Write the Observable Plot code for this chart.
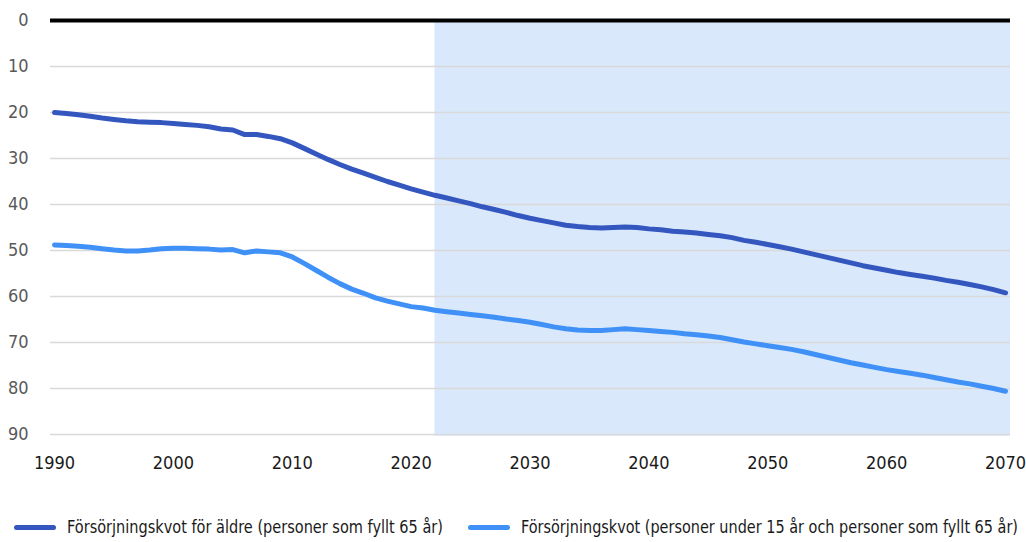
<!DOCTYPE html>
<html>
<head>
<meta charset="utf-8">
<script src="https://cdn.jsdelivr.net/npm/d3@7"></script>
<script src="https://cdn.jsdelivr.net/npm/@observablehq/plot@0.6"></script>
<style>
  html, body { margin: 0; padding: 0; background: #fff; }
  body { width: 1026px; height: 542px; overflow: hidden; font-family: "DejaVu Sans Condensed", "DejaVu Sans", sans-serif; font-stretch: condensed; }
  #legend { position: absolute; left: 0; top: 512px; width: 1026px; height: 30px; font-size: 18px; color: #1a1a1a; }
  .item { position: absolute; top: 3px; height: 24px; white-space: nowrap; }
  .sw { position: absolute; top: 10px; left: 0; width: 42px; height: 5px; border-radius: 3px; }
  .lt { position: absolute; top: 0; left: 53px; transform-origin: 0 50%; line-height: 24px; }
  svg text { font-stretch: condensed; }
</style>
</head>
<body>
<div id="chart"></div>
<div id="legend"></div>
<script>
const years = d3.range(1990, 2071);
const aldre = [
  20.0, 20.2, 20.5, 20.8, 21.2, 21.5, 21.8, 22.0, 22.1, 22.2,
  22.4, 22.6, 22.8, 23.1, 23.6, 23.8, 24.8, 24.8, 25.2, 25.7,
  26.6, 27.8, 29.0, 30.2, 31.3, 32.3, 33.2, 34.1, 35.0, 35.8,
  36.6, 37.3, 38.0, 38.6, 39.2, 39.8, 40.5, 41.1, 41.7, 42.4,
  43.0, 43.5, 44.0, 44.5, 44.8, 45.0, 45.1, 45.0, 44.9, 45.0,
  45.3, 45.5, 45.8, 46.0, 46.2, 46.5, 46.8, 47.2, 47.8, 48.2,
  48.7, 49.2, 49.7, 50.3, 50.9, 51.5, 52.1, 52.7, 53.3, 53.8,
  54.3, 54.8, 55.2, 55.6, 56.0, 56.5, 56.9, 57.4, 57.9, 58.5,
  59.2
];
const totalt = [
  48.8, 48.9, 49.1, 49.3, 49.6, 49.9, 50.1, 50.1, 49.9, 49.6,
  49.5, 49.5, 49.6, 49.7, 49.9, 49.8, 50.5, 50.1, 50.3, 50.5,
  51.4, 52.8, 54.3, 55.8, 57.2, 58.4, 59.3, 60.3, 61.0, 61.6,
  62.2, 62.5, 63.0, 63.3, 63.6, 63.9, 64.2, 64.5, 64.9, 65.2,
  65.6, 66.1, 66.6, 67.0, 67.3, 67.4, 67.4, 67.2, 67.0, 67.2,
  67.4, 67.6, 67.8, 68.1, 68.3, 68.6, 68.9, 69.4, 69.9, 70.3,
  70.7, 71.1, 71.5, 72.0, 72.6, 73.2, 73.8, 74.4, 74.9, 75.4,
  75.9, 76.3, 76.7, 77.1, 77.6, 78.1, 78.6, 79.0, 79.5, 80.0,
  80.6
];
const seriesNames = [
  "Försörjningskvot för äldre (personer som fyllt 65 år)",
  "Försörjningskvot (personer under 15 år och personer som fyllt 65 år)"
];
const seriesColors = ["#3457bf", "#3f91f7"];
const xTicks = [1990, 2000, 2010, 2020, 2030, 2040, 2050, 2060, 2070];
const yTicks = [0, 10, 20, 30, 40, 50, 60, 70, 80, 90];
const projectionStart = 2022;

const rows = [];
years.forEach((yr, i) => {
  rows.push({year: yr, value: aldre[i], series: seriesNames[0]});
  rows.push({year: yr, value: totalt[i], series: seriesNames[1]});
});
const xMin = 1989.66, xMax = 2070.42;

const plot = Plot.plot({
  width: 1026,
  height: 500,
  marginLeft: 50,
  marginRight: 16,
  marginTop: 20,
  marginBottom: 66,
  style: { fontFamily: '"DejaVu Sans Condensed", "DejaVu Sans", sans-serif', fontSize: "18px", background: "#fff" },
  x: { domain: [xMin, xMax], label: null },
  y: { domain: [0, 90], reverse: true, label: null },
  color: { domain: seriesNames, range: seriesColors },
  marks: [
    Plot.rect([{x1: projectionStart, x2: xMax}], {x1: "x1", x2: "x2", y1: 0, y2: 90.4, fill: "#dae8fc"}),
    Plot.ruleY(yTicks.filter(d => d !== 0), {stroke: "#d9d9d9", strokeWidth: 1.5}),
    Plot.ruleY([0], {stroke: "#000", strokeWidth: 4}),
    Plot.axisY(yTicks, {tickSize: 0, tickPadding: 22, tickFormat: d => d, fill: "#595959", fontSize: 18, label: null}),
    Plot.axisX(xTicks, {tickSize: 0, tickPadding: 22, tickFormat: d => String(d), fill: "#1a1a1a", fontSize: 18, label: null}),
    Plot.line(rows, {x: "year", y: "value", z: "series", stroke: "series", strokeWidth: 5, strokeLinecap: "round", strokeLinejoin: "round"})
  ]
});
document.getElementById("chart").appendChild(plot);

const legend = document.getElementById("legend");
const lefts = [14, 468];
const targetWidths = [376, 497];
seriesNames.forEach((name, i) => {
  const it = document.createElement("div");
  it.className = "item";
  it.style.left = lefts[i] + "px";
  it.innerHTML = `<span class="sw" style="background:${seriesColors[i]}"></span><span class="lt">${name}</span>`;
  legend.appendChild(it);
  const lt = it.querySelector(".lt");
  const w = lt.getBoundingClientRect().width;
  if (w > 0) lt.style.transform = `scaleX(${targetWidths[i] / w})`;
});
</script>
</body>
</html>
